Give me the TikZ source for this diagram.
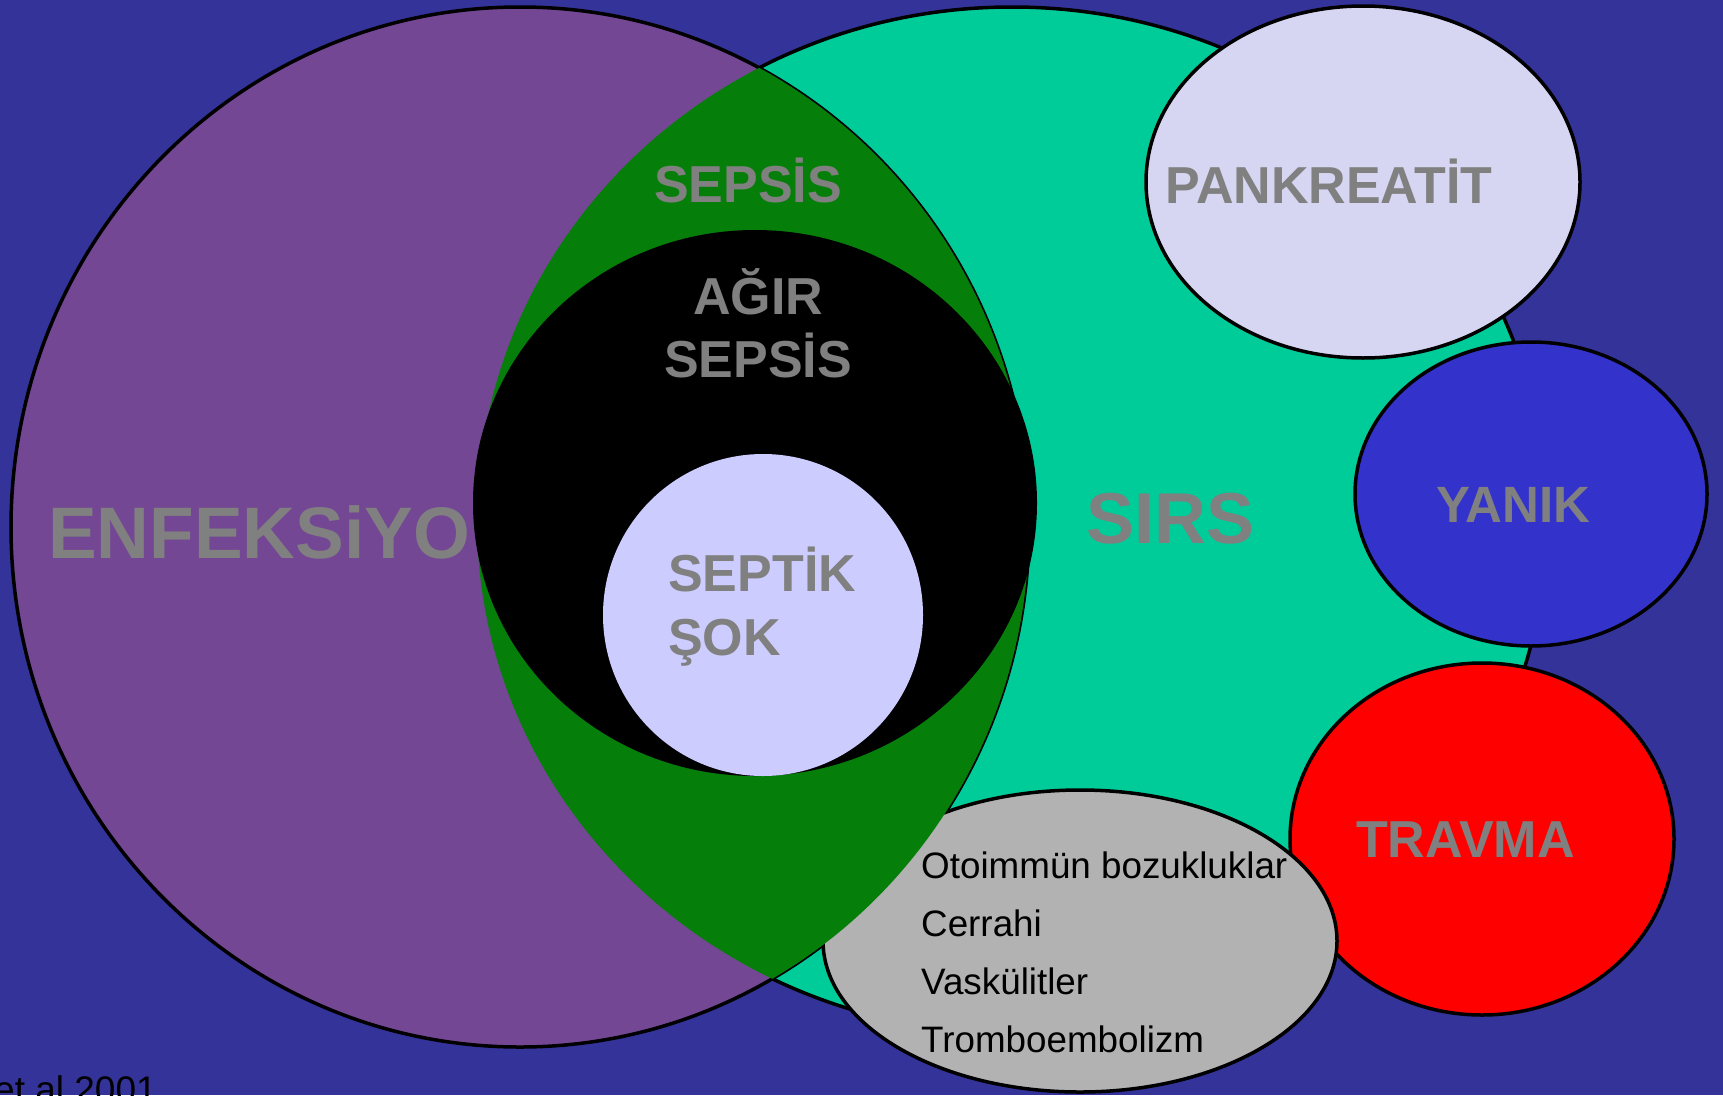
\documentclass[tikz,border=0pt]{standalone}
\usepackage{fontspec}
\setmainfont{Liberation Sans}
\usetikzlibrary{positioning}
\definecolor{mBack}{HTML}{333399}
\definecolor{mPurple}{HTML}{744794}
\definecolor{mTeal}{HTML}{00CC99}
\definecolor{mGreen}{HTML}{067E0A}
\definecolor{mLav}{HTML}{CCCCFF}
\definecolor{mPale}{HTML}{D6D6F2}
\definecolor{mBlue}{HTML}{3333CC}
\definecolor{mSilver}{HTML}{B2B2B2}
\definecolor{mGrey}{HTML}{808080}
\tikzset{
  blob/.style={draw=black, line width=3.5pt},
  lbl/.style={text=mGrey, inner sep=0pt, anchor=base west, font=\fontsize{52}{60}\selectfont\bfseries},
  biglbl/.style={lbl, font=\fontsize{73}{80}\selectfont\bfseries},
}

\begin{document}
\begin{tikzpicture}[x=1pt, y=-1pt]
  \useasboundingbox (0,0) rectangle (1723,1095);
  \fill[mBack] (0,0) rectangle (1723,1095);
  % SIRS and infection
  \draw[blob, fill=mTeal] (1012,520) ellipse [x radius=535pt, y radius=513pt];
  \draw[blob, fill=mPurple] (520,527) ellipse [x radius=509pt, y radius=520pt];
  \node[biglbl] (enf) at (48,558) {ENFEKSiYO};
  \node[biglbl, font=\fontsize{72}{80}\selectfont\bfseries] (sirs) at (1086,543) {SIRS};
  % causes
  \foreach \nm/\fillc/\cx/\cy/\rx/\ry in
    {pank/mPale/1363/182/217/176, yanik/mBlue/1531/494/176/152, travma/red/1482/839/192/176} {
    \draw[blob, fill=\fillc] (\cx,\cy) ellipse [x radius=\rx pt, y radius=\ry pt];
  }
  \node[lbl] (pankT) at (1165,203) {PANKREATİT};
  \node[lbl, font=\fontsize{51}{60}\selectfont\bfseries] (yanikT) at (1436,522) {YANIK};
  \node[lbl] (travmaT) at (1356,857) {TRAVMA};
  \draw[blob, fill=mSilver] (1080,941) ellipse [x radius=257pt, y radius=151pt];
  \foreach \t [count=\i from 0] in {Otoimmün bozukluklar, Cerrahi, Vaskülitler, Tromboembolizm} {
    \node[anchor=base west, inner sep=0pt, font=\fontsize{36.8}{44}\selectfont] (item\i) at (921,878+58.3*\i) {\t};
  }
  % sepsis lens
  \begin{scope}
    \clip (520,527) ellipse [x radius=509pt, y radius=520pt];
    \fill[mGreen] (1012,520) ellipse [x radius=535pt, y radius=513pt];
  \end{scope}
  \fill[black] (755,503) ellipse [x radius=282pt, y radius=273pt];
  \fill[mLav] (763,615) ellipse [x radius=160pt, y radius=161pt];
  \node[lbl, anchor=base] (sepsis) at (748,202) {SEPSİS};
  \node[lbl, anchor=base] (agir) at (758,314) {AĞIR};
  \node[lbl, anchor=base] (agir2) at (758,377) {SEPSİS};
  \node[lbl] (septik) at (668,591) {SEPTİK};
  \node[lbl] (sok) at (668,655) {ŞOK};
  \node[anchor=base west, inner sep=0pt, font=\fontsize{37}{44}\selectfont] (ref) at (-6,1102) {et al 2001};
\end{tikzpicture}
\end{document}
